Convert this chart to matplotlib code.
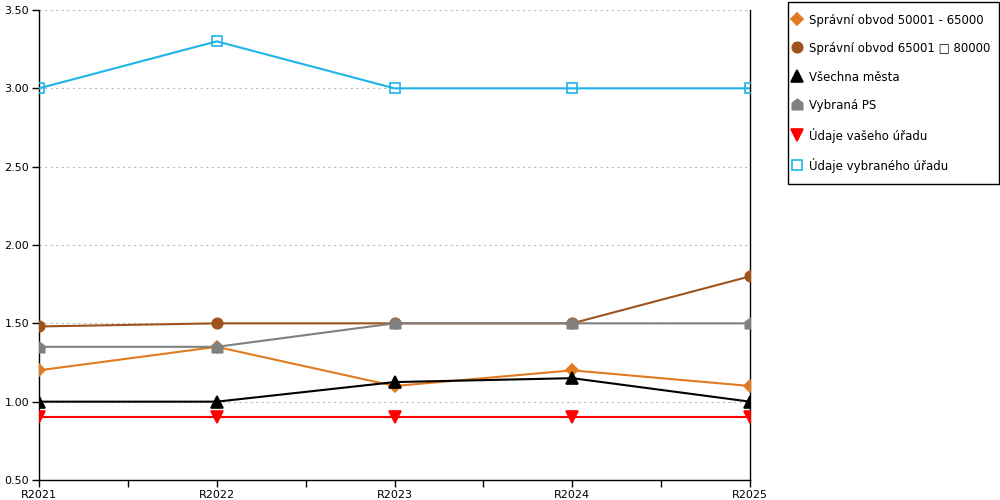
import matplotlib.pyplot as plt
from matplotlib.path import Path
from matplotlib.patches import Rectangle

years = ["R2021", "R2022", "R2023", "R2024", "R2025"]

obvod_50_65 = [1.20, 1.35, 1.10, 1.20, 1.10]
obvod_65_80 = [1.48, 1.50, 1.50, 1.50, 1.80]
vsechna_mesta = [1.00, 1.00, 1.125, 1.15, 1.00]
vybrana_ps = [1.35, 1.35, 1.50, 1.50, 1.50]
vas_urad = [0.90, 0.90, 0.90, 0.90, 0.90]
vybrany_urad = [3.00, 3.30, 3.00, 3.00, 3.00]

labels = ["Správní obvod 50001 - 65000", "Správní obvod 65001 \u25a1 80000",
          "Všechna města", "Vybraná PS", "Údaje vašeho úřadu", "Údaje vybraného úřadu"]

# house-shaped marker for Vybraná PS
house = Path([(-1, -1), (1, -1), (1, 0.25), (0, 1), (-1, 0.25), (-1, -1)],
             [Path.MOVETO, Path.LINETO, Path.LINETO, Path.LINETO, Path.LINETO, Path.CLOSEPOLY])

fig = plt.figure(figsize=(10, 5), dpi=100)
ax = fig.add_axes([0.039, 0.04, 0.711, 0.94])

x = range(len(years))
series = [
    (obvod_50_65, "#e07b20", "D", 6, "#e07b20"),
    (obvod_65_80, "#a0521c", "o", 7.5, "#a0521c"),
    (vsechna_mesta, "#000000", "^", 8, "#000000"),
    (vybrana_ps, "#808080", house, 7.5, "#808080"),
    (vas_urad, "#ff0000", "v", 8, "#ff0000"),
    (vybrany_urad, "#1eb4e8", "s", 7, "none"),
]
handles = []
for (vals, col, mk, ms, fc), lab in zip(series, labels):
    ax.plot(x, vals, color=col, lw=1.5, zorder=3)
    ax.plot(x, vals, ls="none", marker=mk, ms=ms, mfc=fc, mec=col, mew=1.2, zorder=4)
    h, = ax.plot([], [], ls="none", marker=mk, ms=ms, mfc=fc, mec=col, mew=1.2, label=lab)
    handles.append(h)

ax.set_xlim(0, 4)
ax.set_ylim(0.5, 3.5)
ax.set_yticks([0.5, 1.0, 1.5, 2.0, 2.5, 3.0, 3.5])
ax.set_yticklabels(["%.2f" % v for v in ax.get_yticks()])
ax.set_xticks(list(x))
ax.set_xticklabels(years)
ax.set_xticks([0.5, 1.5, 2.5, 3.5], minor=True)
ax.tick_params(axis="both", labelsize=8, length=5, width=1, pad=2, colors="black")
ax.tick_params(axis="x", which="minor", length=5, width=1)
ax.grid(axis="y", ls=(0, (2, 3)), color="#bbbbbb", lw=0.8)
ax.spines["top"].set_visible(False)
for s in ["left", "right", "bottom"]:
    ax.spines[s].set_linewidth(1)
    ax.spines[s].set_color("black")

# legend box drawn separately so padding can differ per side
fig.patches.append(Rectangle((0.788, 0.632), 0.211, 0.364, transform=fig.transFigure,
                             fill=False, edgecolor="black", lw=1))
fig.legend(handles=handles, loc="upper left", bbox_to_anchor=(0.7925, 0.972),
           borderaxespad=0, borderpad=0, fontsize=8.5, labelspacing=1.3,
           handlelength=0.8, handleheight=1.2, handletextpad=0.6, frameon=False)

fig.savefig("out.png", dpi=100)
